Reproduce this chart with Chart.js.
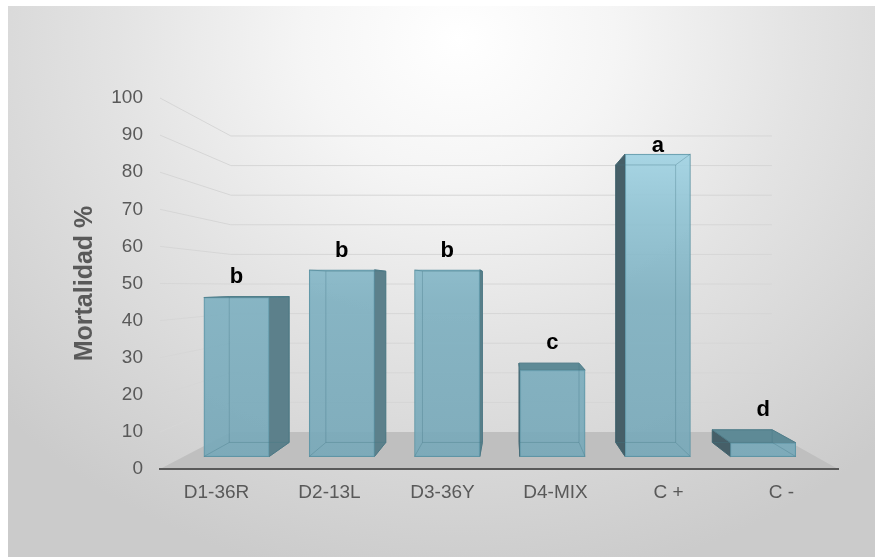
<!DOCTYPE html>
<html>
<head>
<meta charset="utf-8">
<title>Mortalidad %</title>
<script src="https://cdn.jsdelivr.net/npm/chart.js@4.4.1/dist/chart.umd.min.js"></script>
<style>
  html, body { margin: 0; padding: 0; background: #fff; }
  #marco { position: relative; width: 875px; height: 557px; overflow: hidden; }
  #fondo { position: absolute; left: 8px; top: 6px; right: 0; bottom: 0;
    background: radial-gradient(ellipse 72% 100% at 52% 6%, #ffffff 0%, #f5f5f5 25%, #e3e3e3 55%, #cbcbcb 100%); }
  #grafico { position: absolute; left: 0; top: 0; }
</style>
</head>
<body>
<div id="marco"><div id="fondo"></div><canvas id="grafico" width="875" height="557"></canvas></div>
<script>
// datos
const tratamientos = ['D1-36R', 'D2-13L', 'D3-36Y', 'D4-MIX', 'C +', 'C -'];
const mortalidad = [46, 54, 54, 25, 87.5, 4];
const letras = ['b', 'b', 'b', 'c', 'a', 'd'];
const marcasY = [0, 10, 20, 30, 40, 50, 60, 70, 80, 90, 100];

// geometria del plano frontal y de la perspectiva (estilo, no datos)
const AREA = { left: 160, right: 838, top: 98, bottom: 469 };
const FUGA = { x: 511, y: 286 };   // punto de fuga
const K_BARRA = 0.932;             // cara frontal de las barras
const K_FONDO_BARRA = 0.855;       // cara trasera de las barras
const K_PARED = 0.798;             // pared del fondo
const ANCHO_BARRA = 0.62;

const GRIS = '#595959';
const FUENTE = "'Liberation Sans', Arial, sans-serif";

// rango de un eje oculto que dibuja en un plano mas profundo
function rangoProfundo(k, vMin, vMax, pMin, pMax, fuga) {
    const inv = p => vMin + (p - pMin) / (pMax - pMin) * (vMax - vMin);
    return { min: inv(fuga + (pMin - fuga) / k), max: inv(fuga + (pMax - fuga) / k) };
}
const rangoX = rangoProfundo(K_BARRA, -0.5, tratamientos.length - 0.5, AREA.left, AREA.right, FUGA.x);
const rangoY = rangoProfundo(K_BARRA, marcasY[0], marcasY[marcasY.length - 1], AREA.bottom, AREA.top, FUGA.y);

function hacia(p, k) {
    return { x: FUGA.x + k * (p.x - FUGA.x), y: FUGA.y + k * (p.y - FUGA.y) };
}

function poligono(ctx, pts, relleno, borde) {
    ctx.beginPath();
    ctx.moveTo(pts[0].x, pts[0].y);
    for (let i = 1; i < pts.length; i++) ctx.lineTo(pts[i].x, pts[i].y);
    ctx.closePath();
    if (relleno) { ctx.fillStyle = relleno; ctx.fill(); }
    if (borde) { ctx.strokeStyle = borde; ctx.lineWidth = 1; ctx.stroke(); }
}

function cajas(chart) {
    const r = K_FONDO_BARRA / K_BARRA;
    return chart.getDatasetMeta(0).data.map(el => {
        const { x, y, base, width } = el.getProps(['x', 'y', 'base', 'width'], true);
        const top = Math.min(y, base), bot = Math.max(y, base);
        const f = {
            tl: { x: x - width / 2, y: top }, tr: { x: x + width / 2, y: top },
            br: { x: x + width / 2, y: bot }, bl: { x: x - width / 2, y: bot }
        };
        const b = {};
        for (const c in f) b[c] = { x: FUGA.x + r * (f[c].x - FUGA.x), y: FUGA.y + r * (f[c].y - FUGA.y) };
        return { x, f, b };
    });
}

const escena3d = {
    id: 'escena3d',
    beforeDatasetsDraw(chart) {
        const ctx = chart.ctx;
        const ca = chart.chartArea;
        const ys = chart.scales.y;
        ctx.save();
        // piso
        const y0 = ys.getPixelForValue(0);
        const a = { x: ca.left, y: y0 }, b = { x: ca.right, y: y0 };
        poligono(ctx, [a, b, hacia(b, K_PARED), hacia(a, K_PARED)], '#bfbfbf');
        // lineas de division: pared lateral y pared del fondo
        ctx.strokeStyle = '#d6d6d6';
        ctx.lineWidth = 1;
        marcasY.slice(1).forEach(v => {
            const p = { x: ca.left, y: ys.getPixelForValue(v) };
            const q = hacia(p, K_PARED);
            const s = hacia({ x: ca.right, y: p.y }, K_PARED);
            ctx.beginPath();
            ctx.moveTo(p.x, p.y);
            ctx.lineTo(q.x, q.y);
            ctx.lineTo(s.x, s.y);
            ctx.stroke();
        });
        // caras laterales y superiores de las barras
        cajas(chart).forEach(({ f, b }) => {
            if (f.tr.x < FUGA.x) poligono(ctx, [f.tr, b.tr, b.br, f.br], '#5c808b', '#4f7884');
            if (f.tl.x > FUGA.x) poligono(ctx, [f.tl, b.tl, b.bl, f.bl], '#465f68', '#3f5a63');
            if (f.tl.y > FUGA.y) poligono(ctx, [f.tl, f.tr, b.tr, b.tl], '#5e8a96', '#557f8b');
        });
        ctx.restore();
    },
    afterDatasetsDraw(chart) {
        const ctx = chart.ctx;
        const ca = chart.chartArea;
        ctx.save();
        // aristas traseras vistas a traves de la barra
        cajas(chart).forEach(({ f, b }) => {
            ctx.strokeStyle = 'rgba(70, 120, 135, 0.35)';
            ctx.lineWidth = 1;
            poligono(ctx, [b.tl, b.tr, b.br, b.bl], null, 'rgba(70, 120, 135, 0.35)');
            ctx.beginPath();
            ['tl', 'tr', 'br', 'bl'].forEach(c => { ctx.moveTo(f[c].x, f[c].y); ctx.lineTo(b[c].x, b[c].y); });
            ctx.stroke();
        });
        // letras de significancia
        ctx.fillStyle = '#000';
        ctx.font = 'bold 22px ' + FUENTE;
        ctx.textAlign = 'center';
        ctx.textBaseline = 'middle';
        cajas(chart).forEach(({ x, b }, i) => {
            const y = Math.max(b.tl.y - 20, ca.top + 48);
            ctx.fillText(letras[i], x, y);
        });
        ctx.restore();
    }
};

function colorFrente(c) {
    const { ctx, chartArea } = c.chart;
    if (!chartArea) return '#7aabbb';
    const g = ctx.createLinearGradient(0, chartArea.top, 0, chartArea.bottom);
    g.addColorStop(0, 'rgba(178, 226, 242, 0.93)');
    g.addColorStop(0.3, 'rgba(146, 196, 212, 0.93)');
    g.addColorStop(0.55, 'rgba(128, 177, 193, 0.93)');
    g.addColorStop(1, 'rgba(120, 168, 184, 0.93)');
    return g;
}

new Chart(document.getElementById('grafico'), {
    type: 'bar',
    data: {
        labels: tratamientos,
        datasets: [{
            label: 'Mortalidad %',
            data: mortalidad.map((v, i) => ({ x: i, y: v })),
            xAxisID: 'xb',
            yAxisID: 'yb',
            backgroundColor: colorFrente,
            borderColor: '#5f95a5',
            borderWidth: 1,
            borderSkipped: false,
            barThickness: ANCHO_BARRA * (AREA.right - AREA.left) / tratamientos.length * K_BARRA
        }]
    },
    options: {
        responsive: false,
        animation: false,
        events: [],
        layout: { padding: { left: 0, top: AREA.top, right: 875 - AREA.right, bottom: 0 } },
        plugins: { legend: { display: false }, tooltip: { enabled: false } },
        scales: {
            x: {
                type: 'category',
                offset: true,
                grid: { display: false, drawTicks: false },
                border: { display: true, color: GRIS, width: 2, z: 1 },
                ticks: { color: GRIS, font: { family: FUENTE, size: 19 }, padding: 12, maxRotation: 0 },
                afterFit: s => { s.height = 557 - AREA.bottom; }
            },
            y: {
                type: 'linear',
                min: marcasY[0],
                max: marcasY[marcasY.length - 1],
                grid: { display: false, drawTicks: false },
                border: { display: false },
                ticks: { stepSize: 10, color: GRIS, font: { family: FUENTE, size: 19 }, padding: 17 },
                title: {
                    display: true,
                    text: 'Mortalidad %',
                    color: GRIS,
                    font: { family: FUENTE, size: 25, weight: 'bold' },
                    padding: { top: 70, bottom: 0 }
                },
                afterFit: s => { s.width = AREA.left; }
            },
            xb: { type: 'linear', display: false, offset: false, grid: { offset: false }, min: rangoX.min, max: rangoX.max },
            yb: { type: 'linear', display: false, min: rangoY.min, max: rangoY.max }
        }
    },
    plugins: [escena3d]
});
</script>
</body>
</html>
